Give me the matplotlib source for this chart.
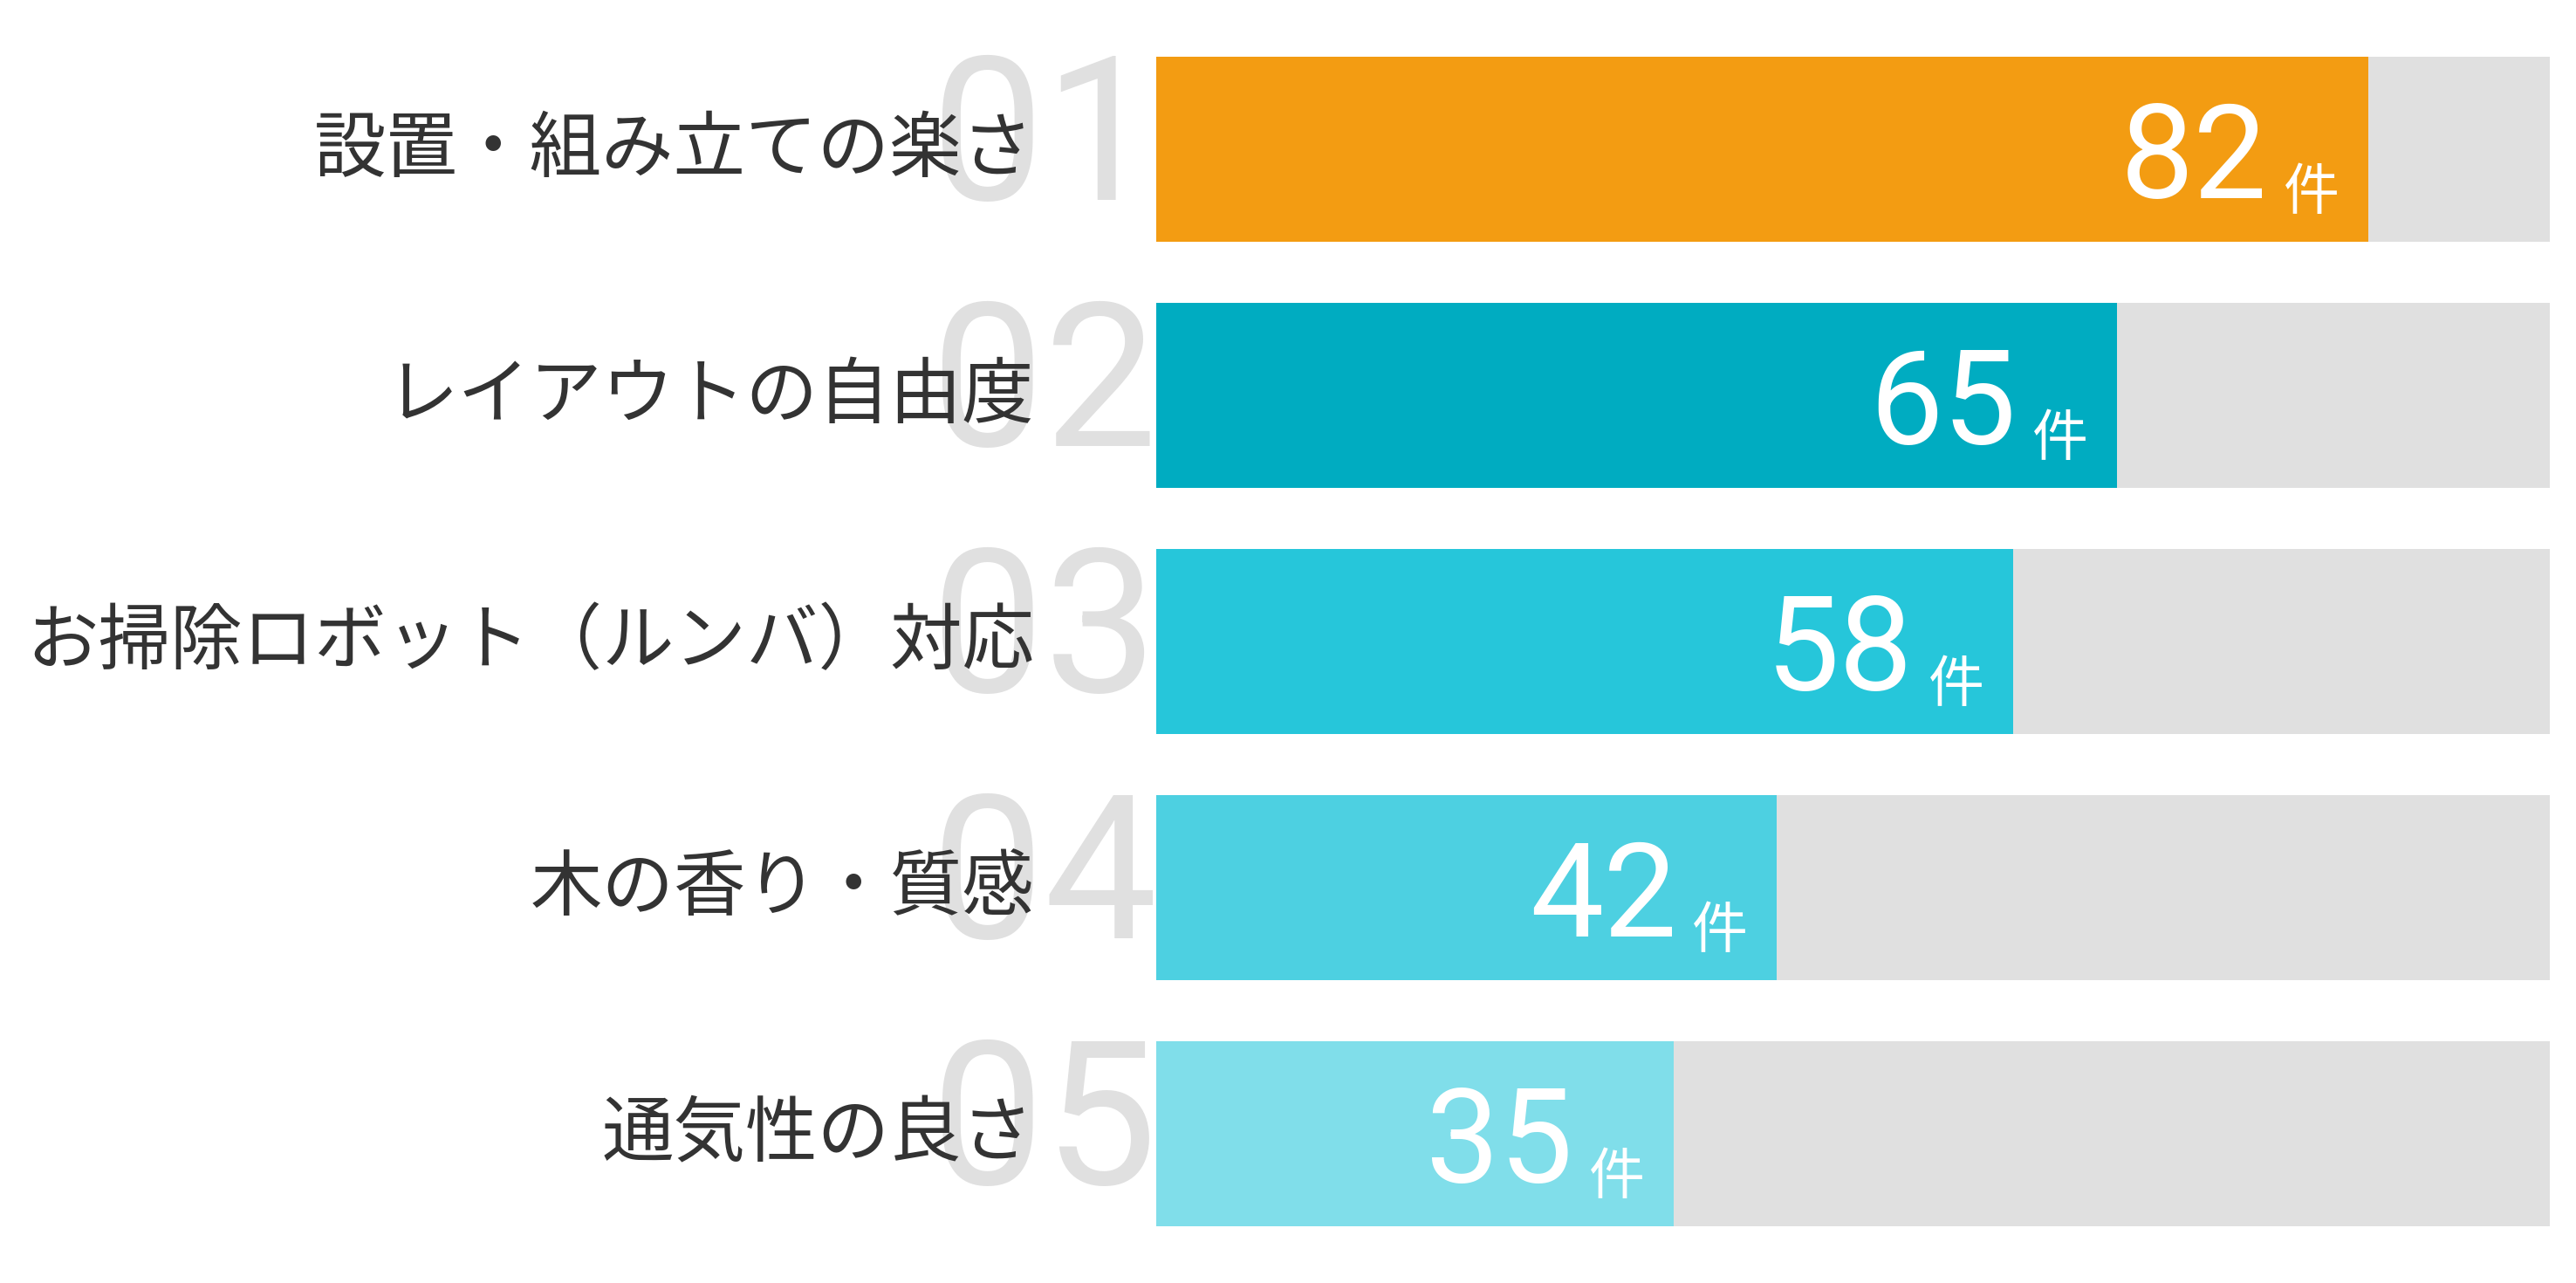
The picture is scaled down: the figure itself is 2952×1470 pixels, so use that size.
import matplotlib
matplotlib.use("Agg")
import matplotlib.pyplot as plt

plt.rcParams['font.family'] = ['Noto Sans CJK JP', 'DejaVu Sans']

categories = ["設置・組み立ての楽さ", "レイアウトの自由度", "お掃除ロボット（ルンバ）対応", "木の香り・質感", "通気性の良さ"]
ranks = ["01", "02", "03", "04", "05"]
values = [82, 65, 58, 42, 35]
unit = "件"
track_max = 94.3
bar_colors = ["#F39C12", "#00ACC1", "#26C6DA", "#4DD0E1", "#80DEEA"]
track_color = "#E0E0E0"

W, H = 2952, 1470
fig = plt.figure(figsize=(W / 100, H / 100), dpi=100)
ax = fig.add_axes([1325 / W, 1 - 1440 / H, 1597 / W, 1410 / H])
ax.set_xlim(0, track_max)
ax.set_ylim(len(values) - 0.5, -0.5)
ax.axis("off")

ypos = list(range(len(values)))
ax.barh(ypos, [track_max] * len(values), height=0.752, color=track_color, zorder=1)
ax.barh(ypos, values, height=0.752, color=bar_colors, zorder=2)

num_family = ["Roboto", "DejaVu Sans"]
for i, (cat, rk, v) in enumerate(zip(categories, ranks, values)):
    # big rank numbers
    ax.annotate(rk, xy=(0, i), xycoords="data", xytext=(-258, -58), textcoords="offset pixels",
                ha="left", va="baseline", fontsize=166, color="#E0E0E0",
                family=num_family, fontweight="normal", zorder=3,
                annotation_clip=False)
    # category label
    ax.annotate(cat, xy=(0, i), xycoords="data", xytext=(-140, -25), textcoords="offset pixels",
                ha="right", va="baseline", fontsize=59.4, color="#333333", zorder=4,
                annotation_clip=False)
    # value
    ax.annotate(str(v), xy=(v, i), xycoords="data", xytext=(-115, -56), textcoords="offset pixels",
                ha="right", va="baseline", fontsize=108, color="white",
                family=num_family, fontweight="normal", zorder=5)
    ax.annotate(unit, xy=(v, i), xycoords="data", xytext=(-33, -69), textcoords="offset pixels",
                ha="right", va="baseline", fontsize=46, color="white", zorder=5)

fig.savefig("out.png", dpi=100, facecolor="white")
